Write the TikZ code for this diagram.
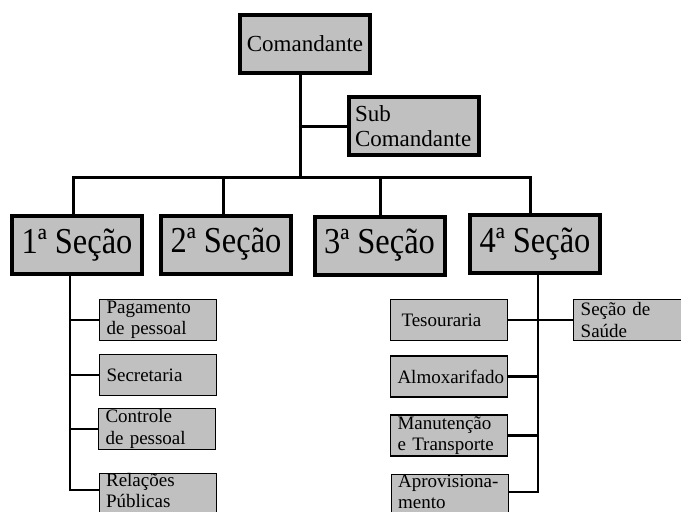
\documentclass[tikz,border=0pt]{standalone}
\usepackage{fontspec}
\setmainfont{Liberation Serif}
\newfontfamily\secfont[FakeStretch=0.89]{Liberation Serif}
\usetikzlibrary{positioning}
\definecolor{caixa}{RGB}{192,192,192}
\newcommand{\fundoalto}{\rule[-9pt]{0pt}{9pt}}

\begin{document}
\begin{tikzpicture}[x=1pt,y=-1pt,
    chefe/.style={draw, line width=4pt, fill=caixa, inner sep=0pt,
        minimum width=130pt, minimum height=58pt, font=\fontsize{23}{25}\selectfont},
    secao/.style={chefe, font=\secfont\fontsize{36.5}{40}\selectfont},
    setor/.style={draw, line width=1.2pt, fill=caixa, inner xsep=7pt, inner ysep=0pt,
        text width=103pt, minimum height=41pt, align=left,
        font=\fontsize{19}{21.5}\selectfont},
    fundo/.style={setor, minimum height=0pt, inner ysep=0.5pt,
        anchor=north west, font=\fontsize{19}{20.5}\selectfont},
    liga/.style={line width=3pt},
    ramo/.style={line width=2.5pt}]

    \useasboundingbox (0,0) rectangle (681,512);
    \clip (0,0) rectangle (681,512);

    \node[chefe] (cmd) at (305,44) {Comandante};
    \node[chefe, text width=117pt, inner xsep=6.5pt, align=left] (sub) at (413.5,126) {Sub\\Comandante};

    \node[secao] (sec1) at (77,245) {1ª Seção};
    \node[secao] (sec2) at (226,244.5) {2ª Seção};
    \node[secao] (sec3) at (379.5,245.5) {3ª Seção};
    \node[secao] (sec4) at (535,244) {4ª Seção};

    \node[setor] (pag) at (158,320) {Pagamento\\de pessoal};
    \node[setor] (sct) at (158,375) {Secretaria};
    \node[setor] (ctl) at (157,429) {Controle\\de pessoal};
    \node[fundo] (rel) at (98.5,472.5) {Relações\\Públicas\fundoalto};

    \node[setor] (tes) at (449,320) {\hspace*{4pt}Tesouraria};
    \node[setor] (alm) at (449,376.5) {Almoxarifado};
    \node[setor] (man) at (449,435.5) {Manutenção\\e Transporte};
    \node[fundo] (apr) at (390.5,474) {Aprovisiona-\\mento\fundoalto};
    \node[setor, text width=94pt, right=65pt of tes] (sau) {Seção de\\Saúde};

    \coordinate (bar) at (300,177);
    \coordinate (d1) at (73,177);
    \coordinate (d2) at (223,177);
    \coordinate (d3) at (380,177);
    \coordinate (d4) at (530,177);
    \coordinate (esq) at (70,490);
    \coordinate (dir) at (538,492);

    \draw[liga] (cmd.south -| bar) -- (bar);
    \draw[liga] (sub.west) -- (sub.west -| bar);
    \draw[liga] (d1 |- sec1.north) -- (d1) -- (d4) -- (d4 |- sec4.north);
    \draw[liga] (d2) -- (d2 |- sec2.north);
    \draw[liga] (d3) -- (d3 |- sec3.north);

    \draw[ramo] (sec1.south -| esq) -- (esq) -- (esq -| rel.west);
    \draw[ramo] (pag.west) -- (pag.west -| esq);
    \draw[ramo] (sct.west) -- (sct.west -| esq);
    \draw[ramo] (ctl.west) -- (ctl.west -| esq);

    \draw[ramo] (sec4.south -| dir) -- (dir) -- (dir -| apr.east);
    \draw[ramo] (tes.east) -- (sau.west);
    \draw[ramo] (alm.east) -- (alm.east -| dir);
    \draw[ramo] (man.east) -- (man.east -| dir);

\end{tikzpicture}
\end{document}
